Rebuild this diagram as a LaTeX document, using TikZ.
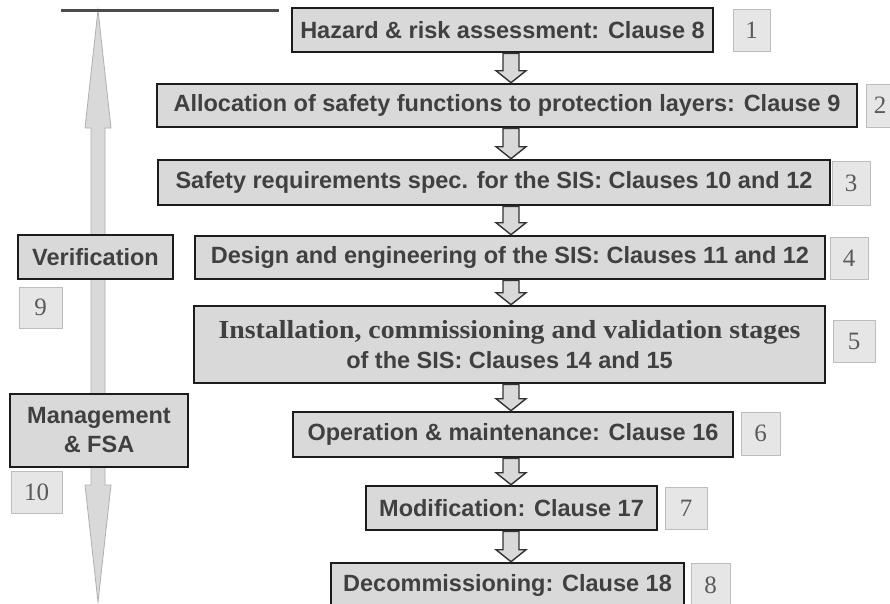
\documentclass[tikz,border=0pt]{standalone}
\usepackage{fontspec}
\setmainfont{Liberation Sans}
\newfontfamily\serifface{Liberation Serif}
\newfontfamily\wideserif[FakeStretch=1.07]{Liberation Serif}
\usetikzlibrary{calc}
\definecolor{boxfill}{HTML}{D9D9D9}
\definecolor{boxline}{HTML}{1C1C1C}
\definecolor{txtgrey}{HTML}{404040}
\definecolor{numfill}{HTML}{E6E6E6}
\definecolor{numline}{HTML}{BDBDBD}
\definecolor{numtxt}{HTML}{5A5A5A}
\definecolor{bigfill}{HTML}{D9D9D9}
\definecolor{bigline}{HTML}{B0B0B0}
\definecolor{arrline}{HTML}{333333}
\newcommand\flowarrow[2]{%
  \path[smallarrow] let \p1=(#1.south), \p2=(#2.north) in
    (503pt,\y1) -- (519pt,\y1) -- (519pt,\y2+12pt) -- (526pt,\y2+12pt) --
    (511pt,\y2) -- (496pt,\y2+12pt) -- (503pt,\y2+12pt) -- cycle;}
\begin{document}
\begin{tikzpicture}[x=1pt,y=-1pt,
  mainbox/.style={draw=boxline, line width=2.6pt, fill=boxfill, text=txtgrey,
    inner sep=0pt, align=center, font=\fontsize{23.5}{27}\selectfont\bfseries},
  numbox/.style={draw=numline, line width=0.8pt, fill=numfill, text=numtxt,
    inner sep=0pt, font=\serifface\fontsize{25}{25}\selectfont},
  smallarrow/.style={draw=arrline, line width=1.4pt, fill=boxfill, line join=miter},
  bigarrow/.style={draw=bigline, line width=0.8pt, fill=bigfill}]
\useasboundingbox (0,0) rectangle (890,603);
\clip (0,0) rectangle (890,603);
\fill[white] (0,0) rectangle (890,603);

% big double arrow and top bar
\path[bigarrow] (98,10) -- (111,128) -- (105,128) -- (105,485) -- (111,485) --
  (98,602) -- (85,485) -- (91,485) -- (91,128) -- (85,128) -- cycle;
\coordinate (barL) at (61,10);
\coordinate (barR) at (279,10);
\draw[line width=3pt, color=black!70] (barL) -- (barR);

% main boxes
\node[mainbox, minimum width=421pt, minimum height=44pt] (b1) at (502.5,30) {Hazard \& risk assessment: Clause 8};
\node[mainbox, minimum width=700pt, minimum height=43pt] (b2) at (507,105.5) {Allocation of safety functions to protection layers: Clause 9};
\node[mainbox, minimum width=672pt, minimum height=45pt] (b3) at (494,182.5) {Safety requirements spec. for the SIS: Clauses 10 and 12};
\node[mainbox, minimum width=630pt, minimum height=43pt] (b4) at (510,257.5) {Design and engineering of the SIS: Clauses 11 and 12};
\node[mainbox, minimum width=631pt, minimum height=77pt] (b5) at (509.5,344.5)
  {{\wideserif\fontsize{26}{28}\selectfont\bfseries Installation, commissioning and validation stages}\\[3pt]
   of the SIS: Clauses 14 and 15};
\node[mainbox, minimum width=440pt, minimum height=45pt] (b6) at (513,434.5) {Operation \& maintenance: Clause 16};
\node[mainbox, minimum width=291pt, minimum height=44pt] (b7) at (511.5,508) {Modification: Clause 17};
\node[mainbox, minimum width=353pt, minimum height=44pt] (b8) at (507.5,585) {Decommissioning: Clause 18};

\node[mainbox, minimum width=155pt, minimum height=44pt] (ver) at (95.5,257) {Verification};
\node[mainbox, minimum width=178pt, minimum height=73pt] (mgt) at (99,430.5) {Management\\[2pt]\& FSA};

% number boxes
\node[numbox, minimum width=37pt, minimum height=42pt] (n1) at (751.5,30) {1};
\node[numbox, minimum width=28pt, minimum height=43pt] (n2) at (880,105.5) {2};
\node[numbox, minimum width=38pt, minimum height=44pt] (n3) at (851,183) {3};
\node[numbox, minimum width=38pt, minimum height=42pt] (n4) at (849,258) {4};
\node[numbox, minimum width=42pt, minimum height=42pt] (n5) at (854,341) {5};
\node[numbox, minimum width=39pt, minimum height=43pt] (n6) at (760.5,433.5) {6};
\node[numbox, minimum width=42pt, minimum height=42pt] (n7) at (686,508) {7};
\node[numbox, minimum width=39pt, minimum height=44pt] (n8) at (710.5,585) {8};
\node[numbox, minimum width=43pt, minimum height=41pt] (n9) at (40.5,307.5) {9};
\node[numbox, minimum width=51pt, minimum height=42pt] (n10) at (36.5,492) {10};

% flow arrows
\flowarrow{b1}{b2}
\flowarrow{b2}{b3}
\flowarrow{b3}{b4}
\flowarrow{b4}{b5}
\flowarrow{b5}{b6}
\flowarrow{b6}{b7}
\flowarrow{b7}{b8}
\end{tikzpicture}
\end{document}
